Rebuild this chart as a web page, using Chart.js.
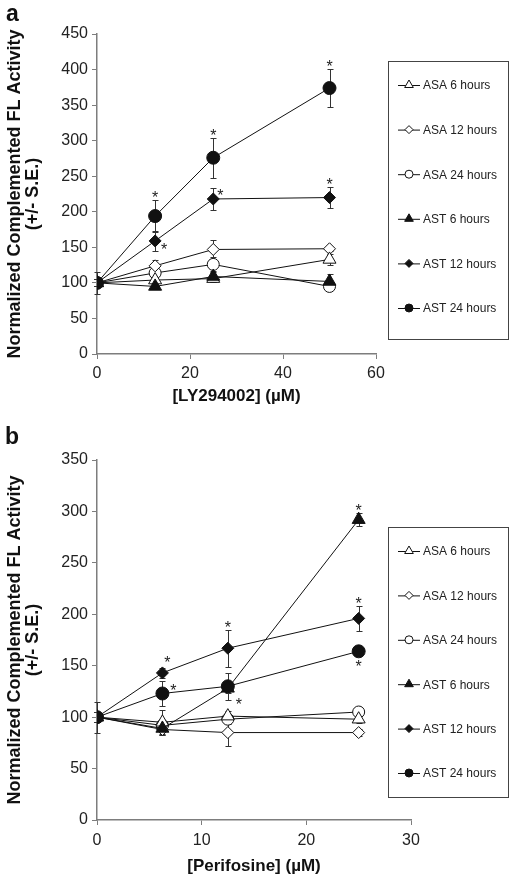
<!DOCTYPE html>
<html><head><meta charset="utf-8">
<script src="https://cdn.jsdelivr.net/npm/chart.js@4.4.0/dist/chart.umd.min.js"></script>
<style>
html,body{margin:0;padding:0;background:#fff;width:515px;height:880px;overflow:hidden}
#wrap{position:relative;width:515px;height:880px}
canvas{position:absolute;left:0}
.letter{position:absolute;font:bold 23px "Liberation Sans",Arial,sans-serif;line-height:1;color:#111}
</style></head><body>
<div id="wrap">
<canvas id="ca" width="515" height="440" style="top:0"></canvas>
<canvas id="cb" width="515" height="440" style="top:440px"></canvas>
<div class="letter" style="left:6px;top:2px">a</div>
<div class="letter" style="left:5px;top:425px">b</div>
</div>
<script>
// ---------- data ----------
const seriesLabels = ['ASA 6 hours','ASA 12 hours','ASA 24 hours','AST 6 hours','AST 12 hours','AST 24 hours'];

// Panel a: LY294002
const lyDoses = [0, 12.5, 25, 50];
const lyASA6  = [100, 104, 106, 133];
const lyASA12 = [100, 124, 147, 148];
const lyASA24 = [100, 114, 126, 95];
const lyAST6  = [100, 95, 109, 102];
const lyAST12 = [100, 159, 218, 220];
const lyAST24 = [100, 194, 276, 374];
const lyErrASA6  = [16, 5, 5, 8];
const lyErrASA12 = [5, 8, 13, 3];
const lyErrASA24 = [5, 8, 10, 5];
const lyErrAST6  = [5, 4, 8, 10];
const lyErrAST12 = [5, 14, 16, 15];
const lyErrAST24 = [5, 22, 28, 27];
const lyYTicks = [0, 450, 50];
const lyXTicks = [0, 60, 20];

// Panel b: Perifosine
const pfDoses = [0, 6.25, 12.5, 25];
const pfASA6  = [100, 95, 101, 98];
const pfASA12 = [100, 88, 85, 85];
const pfASA24 = [100, 92, 98, 105];
const pfAST6  = [100, 89, 128, 292];
const pfAST12 = [100, 143, 167, 196];
const pfAST24 = [100, 123, 130, 164];
const pfErrASA6  = [15, 12, 5, 4];
const pfErrASA12 = [5, 5, 13, 3];
const pfErrASA24 = [5, 5, 5, 4];
const pfErrAST6  = [5, 5, 5, 6];
const pfErrAST12 = [5, 5, 18, 12];
const pfErrAST24 = [5, 12, 13, 4];
const pfYTicks = [0, 350, 50];
const pfXTicks = [0, 30, 10];

// significance stars: [series index, point index, placement]
const lyStars = [[5,1,'above'],[4,1,'right'],[5,2,'above'],[4,2,'upright'],[5,3,'above'],[4,3,'above']];
const pfStars = [[4,1,'upright2'],[5,1,'right2'],[4,2,'above'],[5,2,'downright'],[4,3,'above'],[5,3,'below'],[3,3,'above']];

// ---------- styles ----------
const FONT = '"Liberation Sans", Arial, Helvetica, sans-serif';
const markerStyles = ['triangle','rectRot','circle','triangle','rectRot','circle'];
const markerRadius = [7.5, 6, 6, 7.5, 6, 6.5];
const filled = [false,false,false,true,true,true];
const INK = '#111';
const AXIS = '#7d7d7d';
const starOffsets = {
  right:[9,5], upright:[7,-7], upright2:[5,-14], right2:[11,-6], downright:[11,15]
};

function drawMarker(ctx, style, x, y, r, fill){
  ctx.beginPath();
  if (style === 'circle') {
    ctx.arc(x, y, r, 0, Math.PI*2);
  } else if (style === 'rectRot') {
    ctx.moveTo(x, y-r); ctx.lineTo(x+r, y); ctx.lineTo(x, y+r); ctx.lineTo(x-r, y);
    ctx.closePath();
  } else {
    const a = 2*Math.PI/3;
    ctx.moveTo(x, y-r);
    ctx.lineTo(x+Math.sin(a)*r, y-Math.cos(a)*r);
    ctx.lineTo(x+Math.sin(2*a)*r, y-Math.cos(2*a)*r);
    ctx.closePath();
  }
  ctx.fillStyle = fill ? INK : '#fff';
  ctx.fill();
  ctx.strokeStyle = INK; ctx.lineWidth = 1;
  ctx.stroke();
}

function makePlugins(errors, stars, legend){
  const errorBars = {
    id: 'errorBars',
    beforeDatasetsDraw(chart){
      const ctx = chart.ctx, xs = chart.scales.x, ys = chart.scales.y;
      ctx.save(); ctx.strokeStyle = '#333'; ctx.lineWidth = 1;
      errors.forEach((errs, di) => {
        chart.data.datasets[di].data.forEach((p, j) => {
          const e = errs[j]; if (!e) return;
          const px = Math.round(xs.getPixelForValue(p.x)) + 0.5;
          const t = Math.round(ys.getPixelForValue(p.y + e)) + 0.5;
          const b = Math.round(ys.getPixelForValue(p.y - e)) + 0.5;
          ctx.beginPath();
          ctx.moveTo(px, t); ctx.lineTo(px, b);
          ctx.moveTo(px-3, t); ctx.lineTo(px+3, t);
          ctx.moveTo(px-3, b); ctx.lineTo(px+3, b);
          ctx.stroke();
        });
      });
      ctx.restore();
    }
  };
  const starPlugin = {
    id: 'stars',
    afterDatasetsDraw(chart){
      const ctx = chart.ctx, xs = chart.scales.x, ys = chart.scales.y;
      ctx.save(); ctx.fillStyle = '#222'; ctx.font = '16px ' + FONT;
      ctx.textAlign = 'center'; ctx.textBaseline = 'alphabetic';
      stars.forEach(([di, j, where]) => {
        const p = chart.data.datasets[di].data[j];
        const e = errors[di][j];
        const px = xs.getPixelForValue(p.x), py = ys.getPixelForValue(p.y);
        let cx = px, cy;
        if (where === 'above') cy = ys.getPixelForValue(p.y + e) - 6;
        else if (where === 'below') cy = ys.getPixelForValue(p.y - e) + 8;
        else { cx = px + starOffsets[where][0]; cy = py + starOffsets[where][1]; }
        ctx.fillText('*', cx, cy + 9);
      });
      ctx.restore();
    }
  };
  const boxLegend = {
    id: 'boxLegend',
    afterDraw(chart){
      const ctx = chart.ctx;
      ctx.save();
      ctx.strokeStyle = '#444'; ctx.lineWidth = 1;
      ctx.strokeRect(legend.left + 0.5, legend.top + 0.5, legend.right - legend.left, legend.bottom - legend.top);
      ctx.font = '12px ' + FONT; ctx.textBaseline = 'middle'; ctx.textAlign = 'left';
      chart.data.datasets.forEach((ds, i) => {
        const y = legend.firstY + i * legend.step;
        const mx = legend.left + 21;
        ctx.beginPath(); ctx.strokeStyle = INK; ctx.lineWidth = 1;
        ctx.moveTo(mx - 11, y + 0.5); ctx.lineTo(mx + 11, y + 0.5); ctx.stroke();
        drawMarker(ctx, markerStyles[i], mx, y, markerStyles[i]==='triangle'?5:4, filled[i]);
        ctx.fillStyle = '#222';
        ctx.fillText(ds.label, legend.left + 35, y + 1);
      });
      ctx.restore();
    }
  };
  return [errorBars, starPlugin, boxLegend];
}

function makeDatasets(doses, series){
  return series.map((vals, i) => ({
    label: seriesLabels[i],
    data: doses.map((d, j) => ({x: d, y: vals[j]})),
    borderColor: INK, borderWidth: 1, backgroundColor: filled[i] ? INK : '#fff',
    pointStyle: markerStyles[i], pointRadius: markerRadius[i], pointHoverRadius: markerRadius[i],
    pointBorderColor: INK, pointBackgroundColor: filled[i] ? INK : '#fff', pointBorderWidth: 1,
    tension: 0, fill: false, order: filled[i] ? 0 : 1
  }));
}

function makeChart(id, doses, series, errors, stars, yT, xT, xTitle, lay){
  return new Chart(document.getElementById(id), {
    type: 'line',
    data: { datasets: makeDatasets(doses, series) },
    plugins: makePlugins(errors, stars, lay.legend),
    options: {
      responsive: false, animation: false, devicePixelRatio: 1,
      layout: { padding: { left: 0, top: lay.top, right: lay.right, bottom: 0 } },
      plugins: { legend: { display: false }, tooltip: { enabled: false } },
      scales: {
        x: {
          type: 'linear', min: xT[0], max: xT[1],
          ticks: { stepSize: xT[2], color: '#222', font: { family: FONT, size: 16 }, padding: lay.xTickPad, maxRotation: 0 },
          grid: { drawOnChartArea: false, drawTicks: true, tickLength: 5, color: AXIS },
          border: { color: AXIS, width: 1.5 },
          title: { display: true, text: xTitle, color: '#111',
                   font: { family: FONT, size: 17, weight: 'bold' }, padding: { top: 0, bottom: lay.xTitlePad } },
          afterFit(s){ s.height = lay.xHeight; }
        },
        y: {
          min: yT[0], max: yT[1],
          ticks: { stepSize: yT[2], color: '#222', font: { family: FONT, size: 16 }, padding: 4 },
          grid: { drawOnChartArea: false, drawTicks: true, tickLength: 5, color: AXIS },
          border: { color: AXIS, width: 1.5 },
          title: { display: true, text: ['Normalized Complemented FL Activity', '(+/- S.E.)'], color: '#111',
                   font: { family: FONT, size: 18, weight: 'bold', lineHeight: 1.0 }, padding: { top: 6, bottom: 0 } },
          afterFit(s){ s.width = 97; }
        }
      }
    }
  });
}

makeChart('ca', lyDoses,
  [lyASA6, lyASA12, lyASA24, lyAST6, lyAST12, lyAST24],
  [lyErrASA6, lyErrASA12, lyErrASA24, lyErrAST6, lyErrAST12, lyErrAST24],
  lyStars, lyYTicks, lyXTicks, '[LY294002] (\u00b5M)',
  { top: 34, right: 139, xHeight: 86, xTitlePad: 33, xTickPad: 5,
    legend: { left: 388, right: 508, top: 61, bottom: 339, firstY: 85, step: 44.6 } });

makeChart('cb', pfDoses,
  [pfASA6, pfASA12, pfASA24, pfAST6, pfAST12, pfAST24],
  [pfErrASA6, pfErrASA12, pfErrASA24, pfErrAST6, pfErrAST12, pfErrAST24],
  pfStars, pfYTicks, pfXTicks, '[Perifosine] (\u00b5M)',
  { top: 20, right: 104, xHeight: 60, xTitlePad: 3, xTickPad: 6,
    legend: { left: 388, right: 508, top: 87, bottom: 357, firstY: 111, step: 44.4 } });
</script>
</body></html>
